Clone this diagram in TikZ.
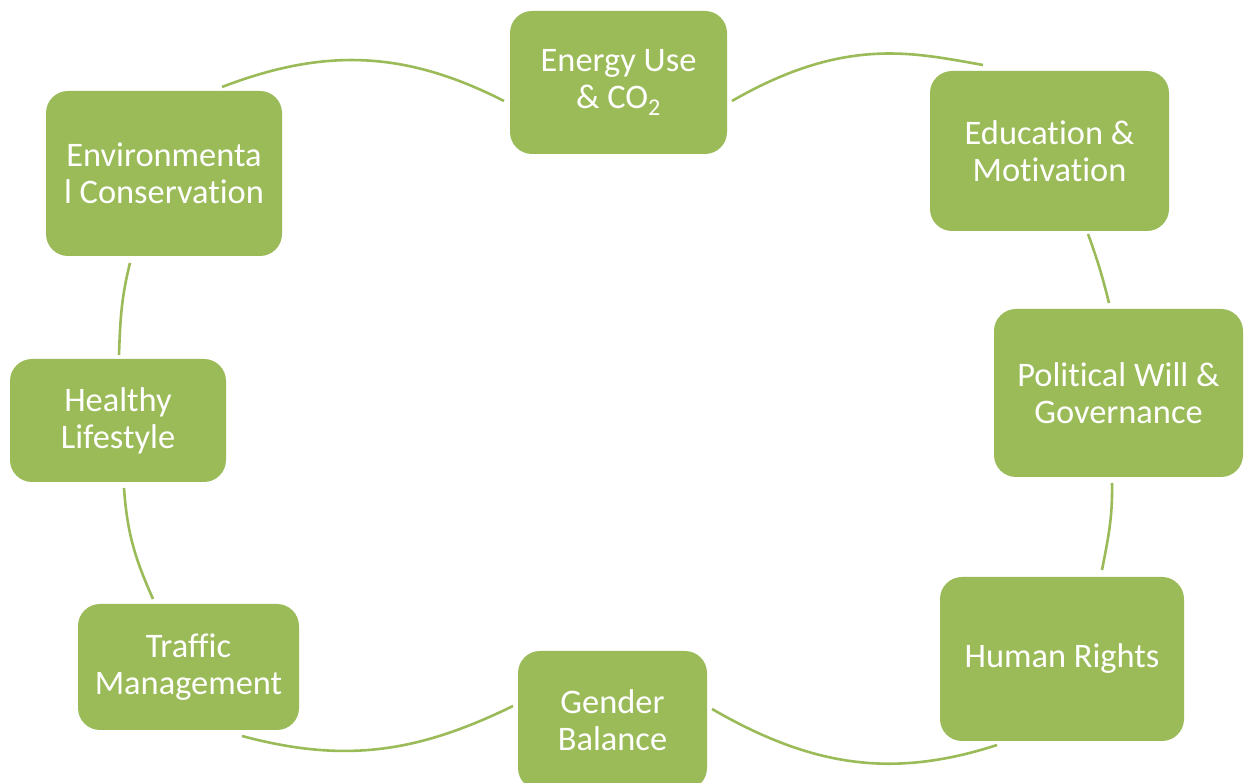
\documentclass[tikz,border=0pt]{standalone}
\usepackage{fontspec}
\setmainfont{Carlito}[Ligatures={CommonOff,ContextualOff}, RawFeature={-liga;-clig;-calt}]
\usepackage{xcolor}
\usepackage{tikz}

\definecolor{leaf}{HTML}{9BBB59}

\begin{document}
\begin{tikzpicture}[x=1pt, y=1pt,
        box/.style={fill=leaf, rounded corners=22pt, text=white, align=center,
            inner sep=0pt, font=\fontsize{34.4}{37}\selectfont},
        link/.style={draw=leaf, line width=2.6pt}]
        \useasboundingbox (0, 0) rectangle (1249, 783);

        % the eight themes
        \node [box, minimum width=217pt, minimum height=143pt] (energy) at (618.5, 700.5) {Energy Use\\\& CO\textsubscript{2}};
        \node [box, minimum width=239pt, minimum height=160pt] (edu) at (1049.5, 632) {Education \&\\Motivation};
        \node [box, minimum width=249pt, minimum height=168pt] (politics) at (1118.5, 390) {Political Will \&\\Governance};
        \node [box, minimum width=244pt, minimum height=164pt] (rights) at (1062, 124) {Human Rights};
        \node [box, minimum width=189pt, minimum height=139pt] (gender) at (612.5, 62.5) {Gender\\Balance};
        \node [box, minimum width=221pt, minimum height=126pt] (traffic) at (188.5, 116) {Traffic\\Management};
        \node [box, minimum width=216pt, minimum height=123pt] (health) at (118, 362.5) {Healthy\\Lifestyle};
        \node [box, minimum width=236pt, minimum height=165pt] (nature) at (164, 609.5) {Environmenta\\l Conservation};

        % ends of the arcs
        \coordinate (natureA) at (222, 696);
        \coordinate (energyW) at (504, 682);
        \coordinate (energyE) at (732, 682);
        \coordinate (eduW) at (983, 718);
        \coordinate (eduS) at (1088, 549);
        \coordinate (politicsN) at (1109, 480);
        \coordinate (politicsS) at (1112, 300);
        \coordinate (rightsN) at (1102, 213);
        \coordinate (rightsW) at (997, 38);
        \coordinate (genderE) at (712, 74);
        \coordinate (genderW) at (513, 77);
        \coordinate (trafficS) at (242, 47);
        \coordinate (trafficN) at (153, 184);
        \coordinate (healthS) at (124, 295);
        \coordinate (healthN) at (119, 428);
        \coordinate (natureS) at (130, 520);

        \draw [link] (natureA) to [out=21, in=153] (energyW);
        \draw [link] (energyE) to [out=30, in=170, out distance=130pt, in distance=71pt] (eduW);
        \draw [link] (eduS) to [out=-70, in=104] (politicsN);
        \draw [link] (politicsS) to [out=-89, in=79] (rightsN);
        \draw [link] (rightsW) to [out=-162, in=-30] (genderE);
        \draw [link] (genderW) to [out=-154, in=-15] (trafficS);
        \draw [link] (trafficN) to [out=114, in=-86] (healthS);
        \draw [link] (healthN) to [out=88, in=-104] (natureS);
    \end{tikzpicture}
\end{document}
